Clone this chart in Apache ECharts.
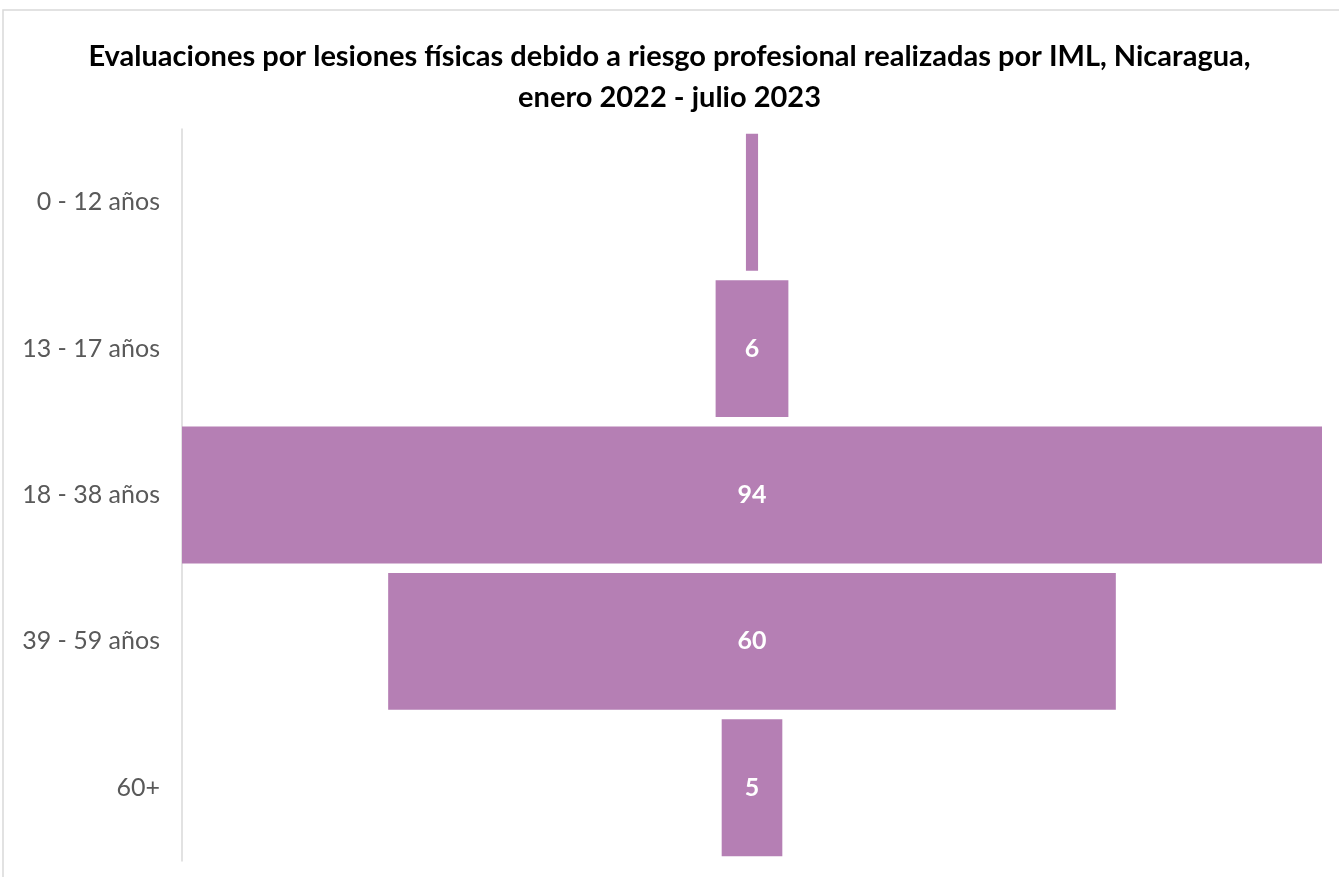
<!DOCTYPE html>
<html><head><meta charset="utf-8">
<script src="https://cdn.jsdelivr.net/npm/echarts@6/dist/echarts.min.js"></script>
<style>html,body{margin:0;padding:0;background:#fff}#c{width:1339px;height:877px}</style>
</head><body><div id="c"></div>
<script>
const titleText = 'Evaluaciones por lesiones físicas debido a riesgo profesional realizadas por IML, Nicaragua,\nenero 2022 - julio 2023';
const categories = ['0 - 12 años', '13 - 17 años', '18 - 38 años', '39 - 59 años', '60+'];
const values = [1, 6, 94, 60, 5];
const maxVal = Math.max(...values);
const offsets = values.map(v => (maxVal - v) / 2);
const FONT = 'Lato, "Open Sans", sans-serif';

const chart = echarts.init(document.getElementById('c'), null, {renderer: 'canvas'});
chart.setOption({
  backgroundColor: '#fff',
  animation: false,
  title: {
    text: titleText, left: 'center', top: 31,
    textStyle: {fontFamily: FONT, fontWeight: 'bold', fontSize: 29, color: '#000', lineHeight: 41}
  },
  graphic: [{type: 'rect', shape: {x: 3, y: 10, width: 1345, height: 880}, style: {fill: 'none', stroke: '#d9d9d9', lineWidth: 1.5}}],
  grid: {left: 182, right: 17, top: 129, height: 732},
  xAxis: {type: 'value', min: 0, max: maxVal, show: false},
  yAxis: {
    type: 'category', data: categories, inverse: true,
    axisLine: {show: true, lineStyle: {color: '#d9d9d9', width: 1.5}},
    axisTick: {show: false},
    axisLabel: {fontFamily: FONT, fontSize: 25, color: '#595959', margin: 22}
  },
  series: [
    {type: 'bar', stack: 's', data: offsets, itemStyle: {color: 'transparent'}, barCategoryGap: '6.5%', silent: true},
    {type: 'bar', stack: 's', data: values, itemStyle: {color: '#b57fb4'}, barCategoryGap: '6.5%',
     label: {show: true, position: 'inside', color: '#fff', fontFamily: FONT, fontWeight: 'bold', fontSize: 25,
       formatter: p => p.value >= 2 ? String(p.value) : ''}}
  ]
});
</script></body></html>
